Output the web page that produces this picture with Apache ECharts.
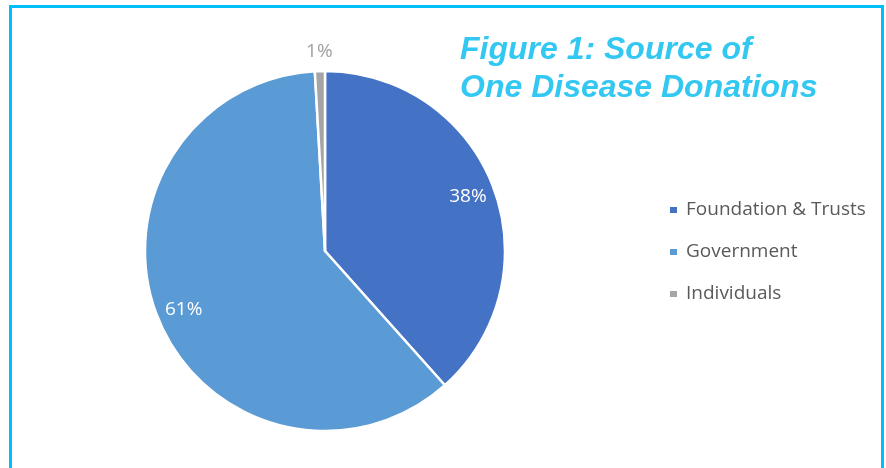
<!DOCTYPE html>
<html>
<head>
<meta charset="utf-8">
<script src="https://cdn.jsdelivr.net/npm/echarts@6/dist/echarts.min.js"></script>
<style>
  html, body { margin: 0; padding: 0; background: #fff; }
  #main { width: 886px; height: 468px; }
</style>
</head>
<body>
<div id="main"></div>
<script>
// 数据
var categories = ["Foundation & Trusts", "Government", "Individuals"];
var shares = [38.4, 60.7, 0.9];
var colors = ["#4472C4", "#5B9BD5", "#A5A5A5"];

var pieData = categories.map(function (name, i) {
  return { name: name, value: shares[i], itemStyle: { color: colors[i] } };
});

var chart = echarts.init(document.getElementById("main"));
var labelFont = "'Open Sans', 'Noto Sans', sans-serif";

// 标签层 (透明)
function labelLayer(radius, showIdx, color) {
  return {
    type: "pie",
    silent: true,
    radius: radius,
    center: [325, 251],
    startAngle: 90,
    legendHoverLink: false,
    data: pieData.map(function (d, i) {
      return {
        name: d.name,
        value: d.value,
        itemStyle: { color: "transparent", borderWidth: 0 },
        label: { show: showIdx.indexOf(i) >= 0 }
      };
    }),
    label: {
      position: "inside",
      formatter: function (p) { return Math.round(p.value) + "%"; },
      color: color,
      fontSize: 19,
      fontFamily: labelFont
    },
    labelLine: { show: false },
    tooltip: { show: false },
    z: 3
  };
}

var option = {
  backgroundColor: "#fff",
  animation: false,
  title: {
    text: "Figure 1: Source of\nOne Disease Donations",
    left: 460,
    top: 31,
    padding: 0,
    textStyle: {
      color: "#33C8F2",
      fontSize: 32,
      fontStyle: "italic",
      fontWeight: "bold",
      fontFamily: "'Liberation Sans', Arial, sans-serif",
      lineHeight: 38
    }
  },
  legend: {
    orient: "vertical",
    left: 668,
    top: 199,
    padding: 0,
    icon: "rect",
    itemWidth: 9,
    itemHeight: 8,
    itemGap: 20,
    data: categories,
    textStyle: {
      color: "#595959",
      fontSize: 19,
      lineHeight: 22,
      padding: [0, 0, 0, 3],
      fontFamily: labelFont
    }
  },
  graphic: [
    {
      type: "rect",
      shape: { x: 10.5, y: 6.5, width: 872, height: 520 },
      style: { fill: "none", stroke: "#00BFFF", lineWidth: 3 },
      silent: true
    }
  ],
  series: [
    {
      type: "pie",
      radius: [0, 180],
      center: [325, 251],
      startAngle: 90,
      clockwise: true,
      data: pieData,
      itemStyle: { borderColor: "#fff", borderWidth: 2.5 },
      label: { show: false },
      labelLine: { show: false },
      emphasis: { disabled: true }
    },
    labelLayer([115, 185], [0, 1], "#ffffff"),
    labelLayer([184, 208], [2], "#A0A0A0")
  ]
};
chart.setOption(option);
</script>
</body>
</html>
